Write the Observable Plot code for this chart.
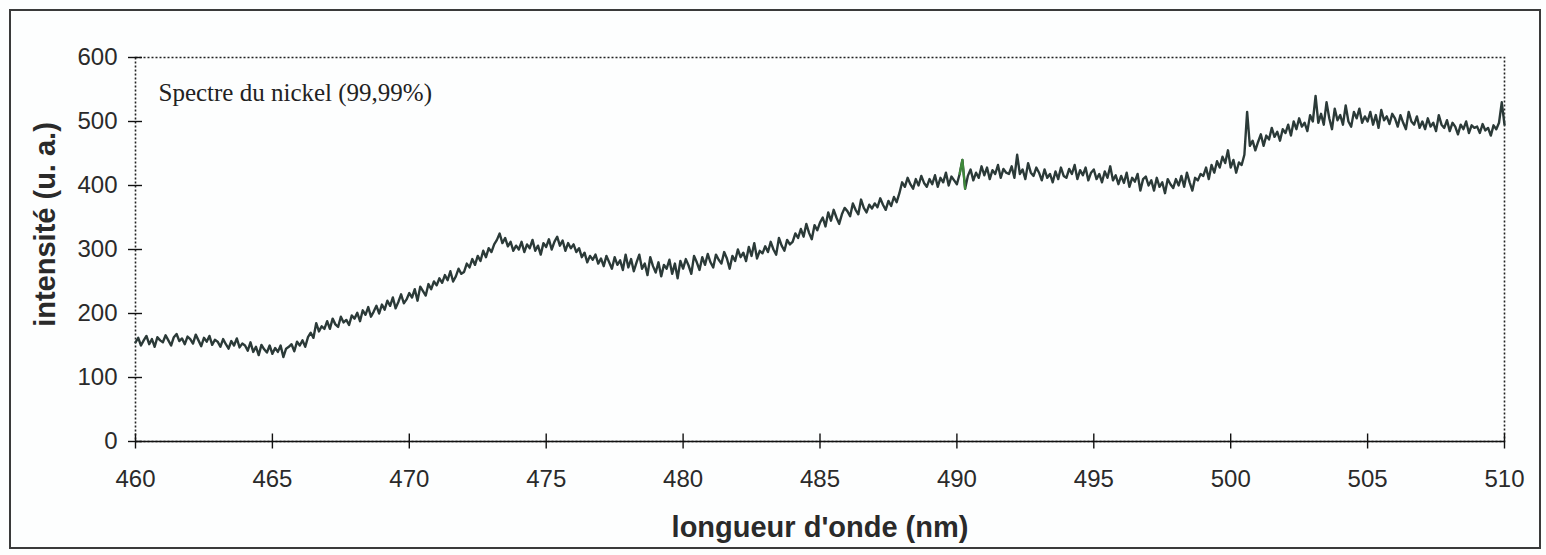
<!DOCTYPE html>
<html>
<head>
<meta charset="utf-8">
<script src="https://cdn.jsdelivr.net/npm/d3@7"></script>
<script src="https://cdn.jsdelivr.net/npm/@observablehq/plot@0.6"></script>
<style>
  html, body { margin: 0; padding: 0; background: #fdfefe; }
  #wrap { position: relative; width: 1546px; height: 555px; overflow: hidden; }
  #border { position: absolute; left: 9px; top: 9px; width: 1532px; height: 540px; border: 2px solid #3a3a3a; box-sizing: border-box; pointer-events: none; }
  #chart { position: absolute; left: 0; top: 0; }
</style>
</head>
<body>
<div id="wrap"><div id="chart"></div><div id="border"></div></div>
<script>
// ---- data ----
const title = "Spectre du nickel (99,99%)";
const xLabel = "longueur d'onde (nm)";
const yLabel = "intensité (u. a.)";
const xTicks = [460, 465, 470, 475, 480, 485, 490, 495, 500, 505, 510];
const yTicks = [0, 100, 200, 300, 400, 500, 600];
const lambdaStart = 460;   // nm
const lambdaStep = 0.1;    // nm between samples
// intensity, one row per nm (460.0 ... 509.9), then 510.0
const intensity = [
  155,162,150,158,165,152,160,148,163,158,
  155,166,158,150,163,168,157,161,152,164,
  160,153,167,158,149,162,156,165,151,159,
  156,148,160,152,145,157,150,161,147,153,
  150,142,155,140,148,135,151,144,139,150,
  137,146,140,150,132,145,148,152,141,156,
  150,158,148,163,170,162,185,172,180,176,
  188,176,192,183,179,195,186,190,182,197,
  192,201,188,205,198,210,195,203,212,200,
  214,206,220,212,225,208,218,230,216,222,
  232,225,238,220,242,235,228,246,238,250,
  244,255,248,260,252,266,250,258,270,262,
  265,278,272,285,276,290,282,298,288,302,
  296,308,315,325,310,318,305,312,298,306,
  300,312,296,308,302,315,298,306,292,310,
  304,316,300,312,320,306,314,298,310,302,
  308,296,302,288,295,280,290,284,292,278,
  286,274,290,280,270,288,276,283,268,292,
  272,285,266,280,292,270,278,260,288,274,
  264,280,258,276,270,284,262,278,255,282,
  270,285,275,262,290,280,268,288,276,293,
  280,272,292,284,278,296,286,270,290,282,
  300,288,295,282,304,290,310,286,298,294,
  305,296,312,300,292,318,306,298,315,308,
  312,325,318,332,320,340,326,316,338,330,
  342,350,336,358,345,362,350,340,355,365,
  360,352,372,362,355,378,365,358,370,364,
  372,366,380,370,362,376,368,382,374,388,
  405,398,412,402,395,410,400,415,404,398,
  410,402,416,398,412,405,420,400,414,408,
  402,418,440,395,415,425,408,420,412,430,
  416,428,410,424,418,432,412,426,420,418,
  430,412,448,418,425,410,435,420,415,428,
  420,408,425,412,418,405,422,410,428,415,
  412,426,418,432,410,424,416,428,408,420,
  425,410,418,405,422,412,430,408,416,402,
  415,404,420,398,412,406,418,392,410,414,
  400,408,392,412,398,405,388,410,402,396,
  410,400,415,398,420,405,392,412,408,418,
  415,428,410,432,420,438,428,445,435,455,
  428,440,420,436,432,448,515,462,470,455,
  468,480,462,478,472,490,476,484,470,488,
  482,495,478,500,488,505,492,498,485,510,
  500,540,498,512,495,530,505,488,520,502,
  510,495,525,500,492,515,505,520,498,508,
  500,515,495,510,490,518,502,508,496,512,
  505,492,510,498,488,515,500,495,508,490,
  500,488,505,492,498,485,510,495,490,502,
  485,498,492,480,495,488,500,482,494,490,
  492,482,496,486,490,478,494,488,498,530,
  495
];
const spectrum = intensity.map((v, i) => ({lambda: lambdaStart + i * lambdaStep, v}));
const greenSpan = [490.05, 490.35]; // short segment drawn in green in the original

const ink = "#2a2a2a";
const chart = Plot.plot({
  width: 1546,
  height: 555,
  marginLeft: 135,
  marginRight: 42,
  marginTop: 57,
  marginBottom: 114,
  style: {background: "transparent", fontFamily: "'Liberation Sans', Arial, sans-serif", color: ink},
  x: {domain: [460, 510]},
  y: {domain: [0, 600]},
  marks: [
    Plot.frame({stroke: "#222", strokeWidth: 1.6, strokeDasharray: "2,2"}),
    Plot.ruleY([0], {stroke: "#111", strokeWidth: 1.6}),
    // crossing tick marks
    Plot.axisY(yTicks, {tickSize: 14, dx: 7, text: null, stroke: "#111", strokeWidth: 1.4, label: null}),
    Plot.axisX(xTicks, {tickSize: 15, dy: -7.5, text: null, stroke: "#111", strokeWidth: 1.4, label: null}),
    // tick labels
    Plot.axisY(yTicks, {tickSize: 0, tickPadding: 18, fontSize: 24, fill: ink, label: null}),
    Plot.axisX(xTicks, {tickSize: 0, tickPadding: 28, fontSize: 24, fill: ink, label: null}),
    // spectrum
    Plot.line(spectrum, {x: "lambda", y: "v", stroke: "#2b3a38", strokeWidth: 2.4}),
    Plot.line(spectrum.filter(d => d.lambda >= greenSpan[0] && d.lambda <= greenSpan[1]),
      {x: "lambda", y: "v", stroke: "#3f8a3a", strokeWidth: 2.2}),
    // texts
    Plot.text([title], {frameAnchor: "top-left", dx: 23, dy: 35, textAnchor: "start", lineAnchor: "middle", fontSize: 25,
      fontFamily: "'Liberation Serif', 'Times New Roman', serif", fill: "#222"}),
    Plot.text([xLabel], {frameAnchor: "bottom", dy: 86, textAnchor: "middle", lineAnchor: "middle", fontSize: 29, fontWeight: "bold", fill: ink}),
    Plot.text([yLabel], {frameAnchor: "left", dx: -90, dy: -25, rotate: -90, textAnchor: "middle", lineAnchor: "middle", fontSize: 29, fontWeight: "bold", fill: ink})
  ]
});
document.getElementById("chart").appendChild(chart);
</script>
</body>
</html>
